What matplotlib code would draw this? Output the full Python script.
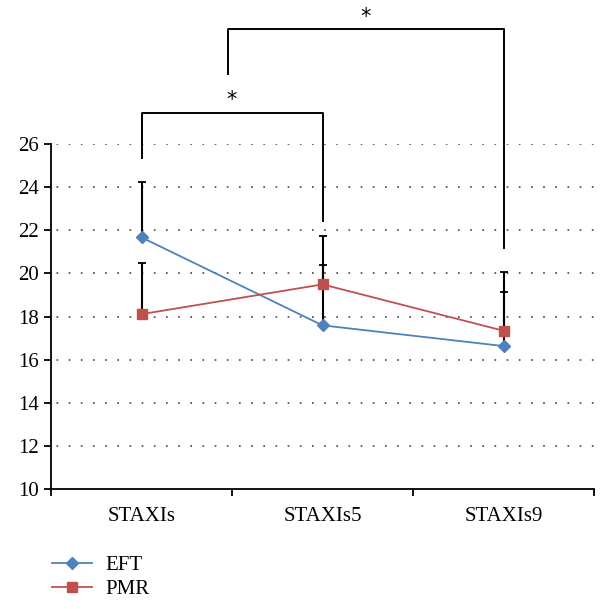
import matplotlib.pyplot as plt
import numpy as np

plt.rcParams['font.family'] = ['Liberation Serif', 'DejaVu Serif']

categories = ['STAXIs', 'STAXIs5', 'STAXIs9']
eft_mean = [21.67, 17.59, 16.63]
eft_sd = [2.58, 4.14, 3.43]
pmr_mean = [18.11, 19.49, 17.34]
pmr_sd = [2.35, 0.90, 1.81]

# significance brackets: (x_left, x_right, y_top, left_leg_bottom, right_leg_bottom, star_y)
brackets = [
    (0.5, 1.5, 27.44, 25.36, 22.43, 28.05),
    (0.98, 2.5, 31.34, 29.25, 21.17, 31.9),
]

blue = '#4F81BD'
red = '#C0504D'

fig = plt.figure(figsize=(6.08, 6.09), dpi=100)
ax = fig.add_axes([0.084, 0.197, 0.893, 0.5665])

x = np.arange(len(categories)) + 0.5

ax.errorbar(x, eft_mean, yerr=[np.zeros(3), eft_sd], fmt='none', ecolor='black',
            elinewidth=1.5, capsize=3, capthick=1.3, zorder=2)
ax.errorbar(x, pmr_mean, yerr=[np.zeros(3), pmr_sd], fmt='none', ecolor='black',
            elinewidth=1.5, capsize=3, capthick=1.3, zorder=2)
ax.plot(x, eft_mean, color=blue, marker='D', markersize=6, linewidth=1.3, label='EFT', zorder=3)
ax.plot(x, pmr_mean, color=red, marker='s', markersize=7, linewidth=1.3, label='PMR', zorder=3)

ax.set_xlim(0, 3)
ax.set_ylim(10, 26)
ax.set_yticks(np.arange(10, 27, 2))
ax.set_xticks([0, 1, 2, 3])
ax.set_xticklabels([])
ax.set_xticks(x, minor=True)
ax.set_xticklabels(categories, minor=True)
ax.tick_params(axis='x', which='minor', length=0, pad=13, labelsize=15)
ax.tick_params(axis='x', which='major', length=5, width=1.3, direction='out')
ax.tick_params(axis='y', length=5, width=1.3, labelsize=15, pad=4)

for yv in range(12, 27, 2):
    ax.axhline(yv, color='#444444', linestyle=(4, (1, 6.3)), linewidth=1.2, zorder=1)

for s in ['top', 'right']:
    ax.spines[s].set_visible(False)
for s in ['left', 'bottom']:
    ax.spines[s].set_linewidth(1.3)

for xl, xr, yt, yl, yr, ys in brackets:
    ax.plot([xl, xl, xr, xr], [yl, yt, yt, yr], color='black', linewidth=1.4,
            clip_on=False, zorder=4)
    ax.text((xl + xr) / 2, ys, '*', ha='center', va='center', fontsize=15,
            family='DejaVu Sans', clip_on=False)

fig.legend(loc='upper left', bbox_to_anchor=(0.072, 0.102), frameon=False,
           fontsize=15, handlelength=1.9, handletextpad=0.65, labelspacing=0.22,
           borderaxespad=0)

fig.savefig('out.png', dpi=100)
